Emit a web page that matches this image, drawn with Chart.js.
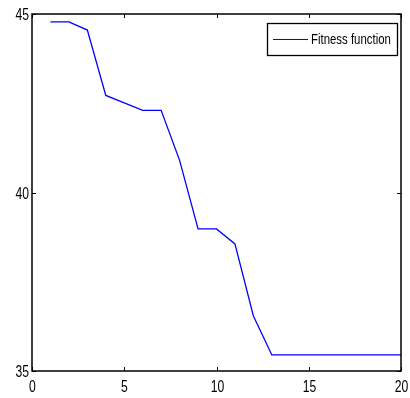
<!DOCTYPE html>
<html>
<head>
<meta charset="utf-8">
<script src="https://cdn.jsdelivr.net/npm/chart.js@4"></script>
<style>
  body { margin: 0; background: #fff; }
  #wrap { width: 410px; height: 398px; }
</style>
</head>
<body>
<div id="wrap"><canvas id="chart-line"></canvas></div>
<script>
const iterations = [1, 2, 3, 4, 5, 6, 7, 8, 9, 10, 11, 12, 13, 14, 15, 16, 17, 18, 19, 20];
const fitness = [44.78, 44.78, 44.55, 42.72, 42.51, 42.30, 42.30, 40.90, 38.98, 38.98,
                 38.56, 36.54, 35.45, 35.45, 35.45, 35.45, 35.45, 35.45, 35.45, 35.45];
const xTicks = [0, 5, 10, 15, 20];
const yTicks = [35, 40, 45];

const FONT = '"Liberation Sans", Arial, sans-serif';
const NARROW = 0.76; // chữ hẹp giống Helvetica Narrow

// vẽ chữ bị nén theo chiều ngang
function narrowText(ctx, text, x, y, size, align) {
    ctx.save();
    ctx.font = size + 'px ' + FONT;
    ctx.textBaseline = 'middle';
    ctx.textAlign = align;
    ctx.translate(x, y);
    ctx.scale(NARROW, 1);
    ctx.fillText(text, 0, 0);
    ctx.restore();
}

// khung trục kiểu MATLAB: viền đen + vạch chia hướng vào trong
const boxPlugin = {
    id: 'box',
    afterDraw(chart) {
        const { ctx, chartArea: a, scales } = chart;
        ctx.save();
        ctx.strokeStyle = '#000';
        ctx.fillStyle = '#000';
        ctx.lineWidth = 1;
        ctx.beginPath();
        xTicks.forEach(v => {
            const px = Math.round(scales.x.getPixelForValue(v)) + 0.5;
            ctx.moveTo(px, a.bottom); ctx.lineTo(px, a.bottom - 4);
            ctx.moveTo(px, a.top); ctx.lineTo(px, a.top + 4);
            narrowText(ctx, String(v), px, a.bottom + 17, 16, 'center');
        });
        yTicks.forEach(v => {
            const py = Math.round(scales.y.getPixelForValue(v)) + 0.5;
            ctx.moveTo(a.left, py); ctx.lineTo(a.left + 4, py);
            ctx.moveTo(a.right, py); ctx.lineTo(a.right - 4, py);
            narrowText(ctx, String(v), a.left - 3, py + 1.5, 16, 'right');
        });
        ctx.stroke();
        ctx.lineWidth = 1.5;
        ctx.strokeRect(a.left, a.top, a.right - a.left, a.bottom - a.top);

        // chú thích nằm trong vùng vẽ, góc trên bên phải
        const label = chart.data.datasets[0].label;
        const bx = 267, by = 23, bw = 130, bh = 32;
        ctx.fillStyle = '#fff';
        ctx.fillRect(bx, by, bw, bh);
        ctx.strokeStyle = '#000';
        ctx.lineWidth = 1.3;
        ctx.strokeRect(bx + 0.5, by + 0.5, bw, bh);
        ctx.strokeStyle = '#0000ff';
        ctx.lineWidth = 1.2;
        ctx.beginPath();
        ctx.moveTo(273, by + 16.5); ctx.lineTo(308, by + 16.5);
        ctx.stroke();
        ctx.fillStyle = '#000';
        narrowText(ctx, label, 311, by + 17, 15, 'left');
        ctx.restore();
    }
};

const ctx = document.getElementById('chart-line');
new Chart(ctx, {
    type: 'line',
    data: {
        datasets: [{
            label: 'Fitness function',
            data: iterations.map((x, i) => ({ x: x, y: fitness[i] })),
            borderColor: '#0000ff',
            borderWidth: 1.3,
            pointRadius: 0,
            tension: 0,
            fill: false
        }]
    },
    options: {
        responsive: true,
        maintainAspectRatio: false,
        animation: false,
        layout: { padding: { top: 14, right: 9, left: 0, bottom: 0 } },
        scales: {
            x: {
                type: 'linear',
                min: 0,
                max: 20,
                afterBuildTicks: s => { s.ticks = xTicks.map(v => ({ value: v })); },
                afterFit: s => { s.height = 27; },
                grid: { display: false },
                border: { display: false },
                ticks: { display: false }
            },
            y: {
                min: 35,
                max: 45,
                afterBuildTicks: s => { s.ticks = yTicks.map(v => ({ value: v })); },
                afterFit: s => { s.width = 32; },
                grid: { display: false },
                border: { display: false },
                ticks: { display: false }
            }
        },
        plugins: {
            legend: { display: false },
            tooltip: { enabled: false }
        }
    },
    plugins: [boxPlugin]
});
</script>
</body>
</html>
